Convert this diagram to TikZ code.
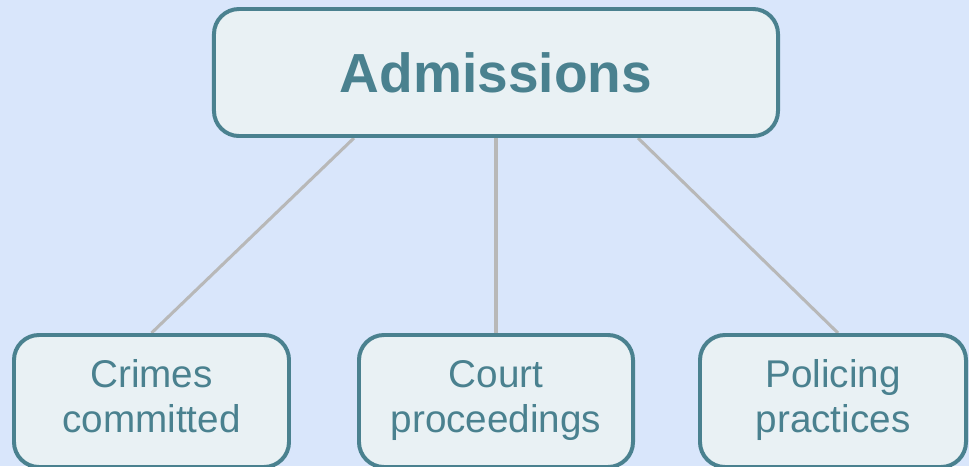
\documentclass[tikz,border=0pt]{standalone}
\usepackage{fontspec}
\setmainfont{Liberation Sans}
\usetikzlibrary{calc}
\usetikzlibrary{backgrounds}

\definecolor{bgblue}{HTML}{D9E6FB}
\definecolor{boxfill}{HTML}{E9F1F4}
\definecolor{teal}{HTML}{4A818F}
\definecolor{linkgray}{HTML}{B8B8B8}

\tikzset{
	topbox/.style={draw=teal, fill=boxfill, line width=3.4pt, rounded corners=0.75cm,
		text=teal, minimum width=16.92cm, minimum height=3.81cm,
		font=\fontsize{47}{56}\selectfont\bfseries},
	leafbox/.style={draw=teal, fill=boxfill, line width=3.4pt, rounded corners=0.75cm,
		text=teal, minimum height=3.96cm, align=center,
		font=\fontsize{33}{39}\selectfont},
	link/.style={draw=linkgray, line width=2.6pt}
}

\begin{document}
\begin{tikzpicture}[x=0.03cm, y=-0.03cm]
		\useasboundingbox (0,0) rectangle (969,466) ;
\par
		\node[topbox] (admissions) at (496,72.5) {Admissions} ;
\par
% the three topics hanging below
		\node[leafbox, minimum width=8.25cm] (crimes) at (151.5,401) {\strut Crimes\\\strut committed} ;
		\node[leafbox, minimum width=8.22cm] (court) at (496,401) {\strut Court\\\strut proceedings} ;
		\node[leafbox, minimum width=7.98cm] (policing) at (833,401) {\strut Policing\\\strut practices} ;
\par
		\coordinate (a1) at ($(admissions.south west)!0.25!(admissions.south east)$) ;
		\coordinate (a2) at (admissions.south) ;
		\coordinate (a3) at ($(admissions.south west)!0.75!(admissions.south east)$) ;
\par
\begin{pgfonlayer}{background}
		\fill[bgblue] (0,0) rectangle (969,466) ;
		\path[link] (a1) -- (crimes.north) ;
		\path[link] (a2) -- (court.north) ;
		\path[link] (a3) -- ([xshift=0.15cm]policing.north) ;
\end{pgfonlayer}
	\end{tikzpicture}
\end{document}
